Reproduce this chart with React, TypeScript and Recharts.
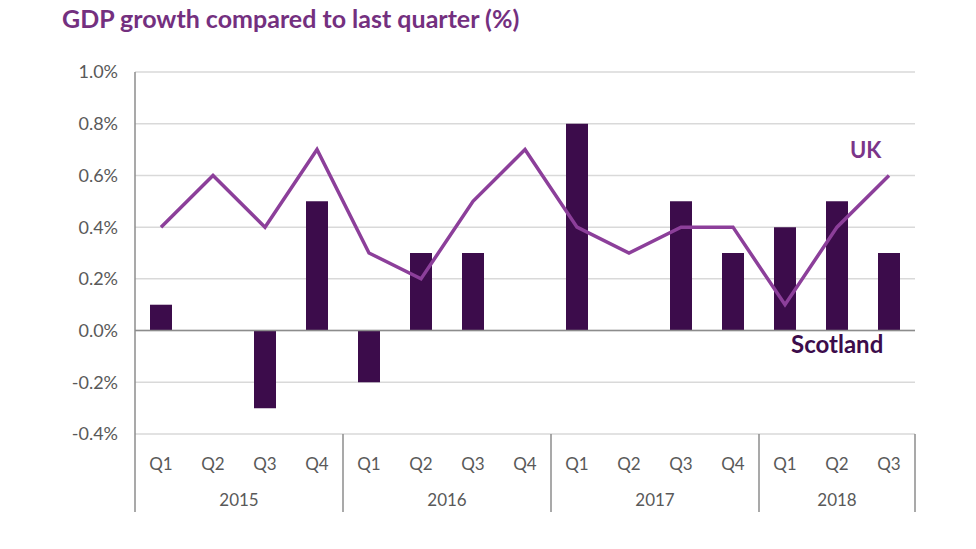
import { Bar, CartesianGrid, ComposedChart, Line, ReferenceLine, XAxis, YAxis } from "recharts";

const quarters = ["Q1", "Q2", "Q3", "Q4", "Q1", "Q2", "Q3", "Q4", "Q1", "Q2", "Q3", "Q4", "Q1", "Q2", "Q3"];
const years = ["2015", "2015", "2015", "2015", "2016", "2016", "2016", "2016", "2017", "2017", "2017", "2017", "2018", "2018", "2018"];
const scotland = [0.1, 0, -0.3, 0.5, -0.2, 0.3, 0.3, 0, 0.8, 0, 0.5, 0.3, 0.4, 0.5, 0.3];
const uk = [0.4, 0.6, 0.4, 0.7, 0.3, 0.2, 0.5, 0.7, 0.4, 0.3, 0.4, 0.4, 0.1, 0.4, 0.6];
const yTicks = [-0.4, -0.2, 0, 0.2, 0.4, 0.6, 0.8, 1.0];

const data = quarters.map((q, i) => ({
    key: `${years[i]}-${q}`,
    quarter: q,
    year: years[i],
    scotland: scotland[i],
    uk: uk[i]
}));

const FONT = "Lato, 'Noto Sans', sans-serif";
const AXIS_GREY = "#8c8c8c";
const TEXT_GREY = "#595959";

function QuarterTick(props: any) {
    const { x, y, payload, index, width, visibleTicksCount } = props;
    const band = payload?.offset ? payload.offset * 2 : (width && visibleTicksCount ? width / visibleTicksCount : 52);
    const i = index ?? payload.index;
    const year = years[i];
    const first = i === 0 || years[i - 1] !== year;
    const last = i === years.length - 1;
    let count = 0;
    years.forEach((yr) => { if (yr === year) count++; });
    return (
        <g>
            <text x={x} y={y + 36} textAnchor="middle" fontSize={17} fill={TEXT_GREY} fontFamily={FONT}>
                {payload.value.split("-")[1]}
            </text>
            {first && (
                <>
                    <line x1={x - band / 2} x2={x - band / 2} y1={y} y2={y + 78} stroke={AXIS_GREY} strokeWidth={1.5} />
                    <text x={x - band / 2 + (count * band) / 2} y={y + 72} textAnchor="middle" fontSize={17} fill={TEXT_GREY} fontFamily={FONT}>
                        {year}
                    </text>
                </>
            )}
            {last && <line x1={x + band / 2} x2={x + band / 2} y1={y} y2={y + 78} stroke={AXIS_GREY} strokeWidth={1.5} />}
        </g>
    );
}

export default function App() {
    return (
        <div style={{ position: "absolute", left: 0, top: 0, width: 976, height: 549, background: "#fff" }}>
            <div
                style={{
                    position: "absolute",
                    left: 62,
                    top: 3,
                    fontFamily: FONT,
                    fontWeight: 700,
                    fontSize: 25,
                    color: "#74307f"
                }}
            >
                GDP growth compared to last quarter (%)
            </div>
            <ComposedChart
                width={976}
                height={549}
                data={data}
                margin={{ top: 72, right: 61, bottom: 37, left: 0 }}
            >
                <CartesianGrid vertical={false} stroke="#d9d9d9" strokeWidth={1.5} />
                <XAxis
                    dataKey="key"
                    type="category"
                    height={78}
                    axisLine={false}
                    tickLine={false}
                    tickSize={0}
                    tickMargin={0}
                    interval={0}
                    tick={<QuarterTick />}
                />
                <YAxis
                    type="number"
                    domain={[-0.4, 1.0]}
                    ticks={yTicks}
                    width={135}
                    tickSize={0}
                    tickMargin={17}
                    tickLine={false}
                    axisLine={{ stroke: AXIS_GREY, strokeWidth: 1.5 }}
                    tick={{ fontSize: 18, fill: TEXT_GREY, fontFamily: FONT }}
                    tickFormatter={(v: number) => `${v.toFixed(1)}%`}
                />
                <ReferenceLine y={0} stroke={AXIS_GREY} strokeWidth={1.5} />
                <Bar dataKey="scotland" fill="#3c0c4b" barSize={22} isAnimationActive={false} />
                <Line
                    type="linear"
                    dataKey="uk"
                    stroke="#8c3f9a"
                    strokeWidth={3.5}
                    dot={false}
                    isAnimationActive={false}
                />
            </ComposedChart>
            <div
                style={{
                    position: "absolute",
                    left: 850,
                    top: 136,
                    fontFamily: FONT,
                    fontWeight: 700,
                    fontSize: 22,
                    color: "#7b3589"
                }}
            >
                UK
            </div>
            <div
                style={{
                    position: "absolute",
                    left: 791,
                    top: 329,
                    fontFamily: FONT,
                    fontWeight: 700,
                    fontSize: 24,
                    color: "#3c0c4b"
                }}
            >
                Scotland
            </div>
        </div>
    );
}
